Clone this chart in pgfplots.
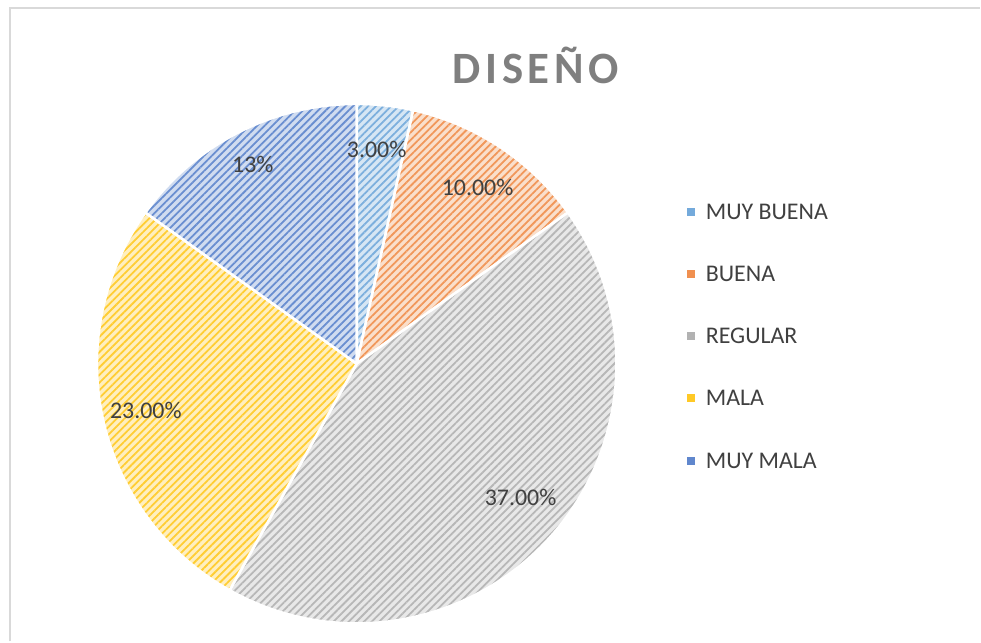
\documentclass[border=0pt]{standalone}
\usepackage{pgfplots}
\pgfplotsset{compat=1.18}
\usepackage{pgfplotstable}
\usetikzlibrary{patterns.meta}
\usepackage{fontspec}
\setmainfont{Carlito}

\definecolor{c1}{HTML}{5B9BD5}
\definecolor{c2}{HTML}{ED7D31}
\definecolor{c3}{HTML}{A5A5A5}
\definecolor{c4}{HTML}{FFC000}
\definecolor{c5}{HTML}{4472C4}
\definecolor{txt}{HTML}{404040}
\definecolor{ttl}{HTML}{7F7F7F}

% value, colour, data label, label position (px from left / from top), legend y (px from top)
\pgfplotstableread{
name        value col lbl  lx  ly  gy
{MUY BUENA} 3     c1  3.00  377 150 212
BUENA       10    c2  10.00 478 188 274
REGULAR     37    c3  37.00 521 498 336
MALA        23    c4  23.00 146 411 398
{MUY MALA}  13    c5  13    253 165 461
}\piedata

\begin{document}
\begin{tikzpicture}
\begin{axis}[
    x=0.5bp, y=0.5bp,
    xmin=0, xmax=981, ymin=0, ymax=642,
    scale only axis,
    hide axis,
    clip=false,
]
\path (axis cs:0,0) rectangle (axis cs:981,642);
% chart frame
\draw[color=black!15, line width=0.8bp] (axis cs:10,0) -- (axis cs:10,634) -- (axis cs:981,634);
% title
\node[font=\fontsize{22.5}{26}\selectfont\bfseries\addfontfeature{LetterSpace=10}, text=ttl]
  at (axis cs:536,577) {DISEÑO};

\def\startang{90}
% slices and legend
\pgfplotsforeachungrouped \i in {0,...,4}{%
  \pgfplotstablegetelem{\i}{value}\of\piedata \let\sval\pgfplotsretval
  \pgfplotstablegetelem{\i}{col}\of\piedata \let\scol\pgfplotsretval
  \pgfplotstablegetelem{\i}{name}\of\piedata \let\sname\pgfplotsretval
  \pgfplotstablegetelem{\i}{gy}\of\piedata \let\sgy\pgfplotsretval
  \pgfmathsetmacro\endang{\startang-\sval/86*360}
  \pgfmathsetmacro\legy{642-\sgy}
  \edef\temp{%
    \noexpand\fill[fill=\scol!25] (axis cs:357,278) -- ++(\startang:130bp)
      arc[start angle=\startang, end angle=\endang, radius=130bp] -- cycle;
    \noexpand\fill[pattern={Lines[angle=45,distance=2.7bp,line width=0.9bp]}, pattern color=\scol!80]
      (axis cs:357,278) -- ++(\startang:130bp)
      arc[start angle=\startang, end angle=\endang, radius=130bp] -- cycle;
    \noexpand\draw[white, line width=1.3bp, line join=round] (axis cs:357,278) -- ++(\startang:130bp)
      arc[start angle=\startang, end angle=\endang, radius=130bp] -- cycle;
    \noexpand\fill[fill=\scol!85] (axis cs:692,\legy) ++(-2bp,-2bp) rectangle ++(4bp,4bp);
    \noexpand\node[anchor=west, font=\noexpand\fontsize{12}{14}\noexpand\selectfont, text=txt, inner sep=0pt]
      at (axis cs:706,\legy) {\sname};
  }%
  \temp
  \let\startang\endang
}
% data labels on top
\pgfplotsforeachungrouped \i in {0,...,4}{%
  \pgfplotstablegetelem{\i}{lbl}\of\piedata \let\slbl\pgfplotsretval
  \pgfplotstablegetelem{\i}{lx}\of\piedata \let\slx\pgfplotsretval
  \pgfplotstablegetelem{\i}{ly}\of\piedata \let\sly\pgfplotsretval
  \pgfmathsetmacro\labely{642-\sly}
  \edef\temp{%
    \noexpand\node[font=\noexpand\fontsize{12}{14}\noexpand\selectfont, text=txt]
      at (axis cs:\slx,\labely) {\slbl\noexpand\%};
  }%
  \temp
}
\end{axis}
\end{tikzpicture}
\end{document}
